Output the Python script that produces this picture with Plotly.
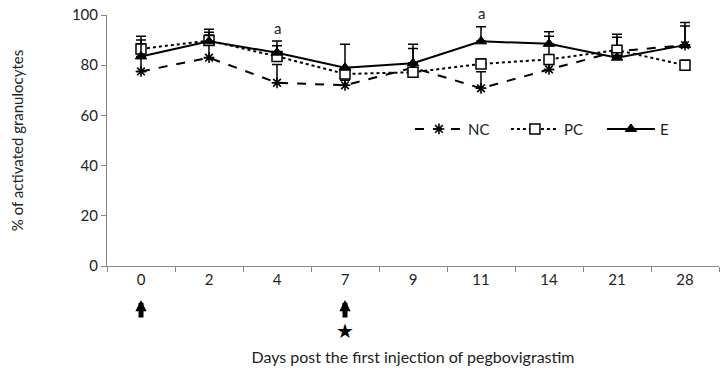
import plotly.graph_objects as go

days = ["0", "2", "4", "7", "9", "11", "14", "21", "28"]
nc = [77.5, 83, 73, 72, 79, 70.8, 78.3, 85.5, 88]
pc = [86.5, 89.8, 83.5, 76.5, 77.2, 80.5, 82.3, 86, 80]
e = [83.5, 89.5, 85, 79, 80.8, 89.5, 88.5, 83, 88]
nc_err = [11, 9, 7.3, 2, 2, 6.6, 2, 5.6, 7.6]
pc_err = [5, 4.5, 4.2, 2, 9.5, 2, 9.2, 6.3, 2]
e_err = [6.5, 3.6, 4.6, 9.3, 7.5, 5.8, 4.8, 2, 9]
sig_days = ["4", "11"]
sig_y = [90.5, 96.5]
sig_text = ["a", "a"]
arrow_days = ["0", "7"]
star_days = ["7"]

FONT = "Lato"

fig = go.Figure()

def add(name, y, err, dash, symbol, mcolor, msize, mline):
    fig.add_trace(go.Scatter(
        x=days, y=y, name=name, mode="lines+markers",
        line=dict(color="black", width=2, dash=dash),
        marker=dict(symbol=symbol, size=msize, color=mcolor,
                    line=dict(color="black", width=mline)),
        error_y=dict(type="data", symmetric=False, array=err,
                     arrayminus=[0] * len(err), color="black",
                     thickness=1.5, width=5),
    ))

add("NC", nc, nc_err, "dash", "asterisk-open", "black", 9, 1.6)
add("PC", pc, pc_err, "dot", "square", "white", 10, 1.5)
add("E", e, e_err, "solid", "triangle-up", "black", 10, 1)

annotations = []
for d, yv, t in zip(sig_days, sig_y, sig_text):
    annotations.append(dict(x=days.index(d), y=yv, xref="x", yref="y", text=t,
                            showarrow=False, yanchor="bottom",
                            font=dict(family=FONT, size=15, color="#222")))
for d in arrow_days:
    annotations.append(dict(x=days.index(d), y=-0.135, xref="x", yref="paper", text="",
                            showarrow=True, ax=0, ay=19, arrowhead=2, arrowsize=0.45,
                            arrowwidth=5, arrowcolor="black", standoff=0, startstandoff=0))
for d in star_days:
    annotations.append(dict(x=days.index(d), y=-0.26, xref="x", yref="paper", text="★",
                            showarrow=False, yanchor="middle", height=16,
                            font=dict(family="DejaVu Sans", size=20, color="black")))

fig.update_layout(
    width=728, height=368,
    margin=dict(l=107, r=9, t=15, b=102, autoexpand=False),
    paper_bgcolor="white", plot_bgcolor="white",
    font=dict(family=FONT, size=14, color="#222"),
    showlegend=True,
    legend=dict(orientation="h", x=0.495, y=0.545, xanchor="left", yanchor="middle",
                font=dict(family=FONT, size=15, color="#222"),
                itemwidth=48, entrywidth=33, entrywidthmode="pixels",
                bgcolor="rgba(0,0,0,0)", tracegroupgap=0),
    annotations=annotations,
    xaxis=dict(type="category", range=[-0.5, len(days) - 0.5], automargin=False,
               showline=True, linecolor="#888", linewidth=1,
               ticks="outside", tickcolor="#888", ticklen=5, tickson="boundaries",
               showgrid=False, zeroline=False,
               tickfont=dict(family=FONT, size=15, color="#222"),
               title=dict(text="Days post the first injection of pegbovigrastim",
                          font=dict(family=FONT, size=16, color="#222"), standoff=64)),
    yaxis=dict(range=[0, 100], tickvals=[0, 20, 40, 60, 80, 100], showline=True,
               automargin=False,
               linecolor="#888", linewidth=1, ticks="outside", tickcolor="#888",
               ticklen=5, showgrid=False, zeroline=False,
               tickfont=dict(family=FONT, size=15, color="#222"),
               title=dict(text="% of activated granulocytes",
                          font=dict(family=FONT, size=15, color="#222"), standoff=44)),
)

fig.write_html("out.html", config={"displayModeBar": False},
               post_script="document.body.style.margin='0';document.body.style.padding='0';")
